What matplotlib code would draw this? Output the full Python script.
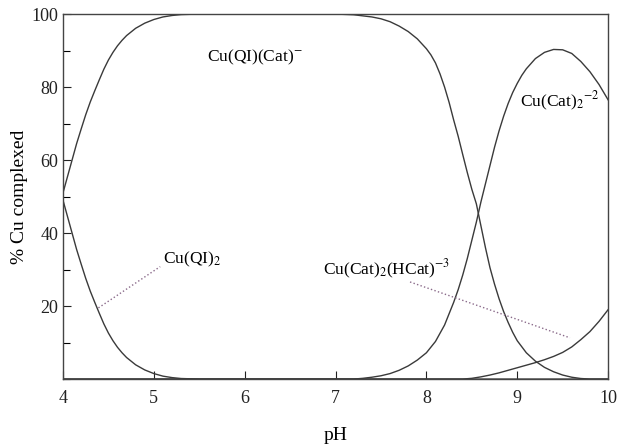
import matplotlib

matplotlib.use("Agg")
import matplotlib.pyplot as plt
from matplotlib.ticker import MultipleLocator, FixedLocator

plt.rcParams["font.family"] = ["Liberation Serif", "DejaVu Serif"]
plt.rcParams["mathtext.fontset"] = "stix"

# values (pH, % Cu complexed)
ph_qi2 = [4.0, 4.05, 4.1, 4.15, 4.2, 4.25, 4.3, 4.35, 4.4, 4.45, 4.5,
          4.55, 4.6, 4.65, 4.7, 4.8, 4.9, 5.0, 5.1, 5.2, 5.3, 5.5, 10.0]
pct_qi2 = [49, 44.5, 40, 35.5, 31.5, 27.6, 24.1, 21, 18, 15.1, 12.6,
           10.5, 8.7, 7.2, 5.9, 3.9, 2.5, 1.5, 0.8, 0.4, 0.15, 0, 0]

ph_qicat = [4.0, 4.05, 4.1, 4.15, 4.2, 4.25, 4.3, 4.35, 4.4, 4.45, 4.5,
            4.55, 4.6, 4.65, 4.7, 4.8, 4.9, 5.0, 5.1, 5.2, 5.3, 5.5,
            7.0, 7.2, 7.4, 7.5, 7.6, 7.7, 7.8, 7.9, 8.0, 8.05, 8.1, 8.15,
            8.2, 8.25, 8.3, 8.35, 8.4, 8.45, 8.5, 8.55, 8.6, 8.65, 8.7,
            8.75, 8.8, 8.85, 8.9, 8.95, 9.0, 9.1, 9.2, 9.3, 9.4, 9.5,
            9.6, 9.7, 9.8, 10.0]
pct_qicat = [51, 55.5, 60, 64.5, 68.5, 72.4, 75.9, 79, 82, 84.9, 87.4,
             89.5, 91.3, 92.8, 94.1, 96.1, 97.5, 98.5, 99.2, 99.6, 99.85,
             100, 100, 99.8, 99.2, 98.7, 97.9, 96.7, 95.2, 93.2, 90.5,
             88.8, 86.6, 83.6, 80, 75.8, 71, 66.5, 61.5, 56.6, 52, 48,
             42, 36, 30.5, 26, 22, 18.5, 15.5, 12.8, 10.5, 7.2, 4.9, 3.2,
             2.0, 1.1, 0.5, 0.15, 0, 0]

ph_cat2 = [4.0, 7.2, 7.3, 7.4, 7.5, 7.6, 7.7, 7.8, 7.9, 8.0, 8.1, 8.2,
           8.3, 8.35, 8.4, 8.45, 8.5, 8.55, 8.6, 8.65, 8.7, 8.75, 8.8,
           8.85, 8.9, 8.95, 9.0, 9.05, 9.1, 9.2, 9.3, 9.4, 9.5, 9.6,
           9.7, 9.8, 9.9, 10.0]
pct_cat2 = [0, 0, 0.2, 0.5, 0.9, 1.5, 2.4, 3.6, 5.2, 7.2, 10.3, 14.8,
            21, 24.5, 28.5, 33, 38, 43, 48.5, 53.5, 58.5, 63.5, 68,
            72, 75.5, 78.5, 81, 83.2, 85, 87.8, 89.5, 90.3, 90.2, 89.2,
            87, 84.2, 80.7, 76.5]

ph_hcat = [4.0, 8.4, 8.5, 8.6, 8.7, 8.8, 8.9, 9.0, 9.1, 9.2, 9.3, 9.4,
           9.5, 9.6, 9.7, 9.8, 9.9, 10.0]
pct_hcat = [0, 0, 0.2, 0.6, 1.1, 1.7, 2.4, 3.1, 3.8, 4.5, 5.3, 6.2,
            7.3, 8.8, 10.8, 13.0, 15.8, 19]

x_ticks = [4, 5, 6, 7, 8, 9, 10]
y_ticks = [20, 40, 60, 80, 100]

fig = plt.figure(figsize=(6.28, 4.47), dpi=100)
ax = fig.add_axes([0.1003, 0.152, 0.868, 0.8166])

line_kw = dict(color="#3a3a3a", lw=1.0)
for xs, ys in [(ph_qi2, pct_qi2), (ph_qicat, pct_qicat),
               (ph_cat2, pct_cat2), (ph_hcat, pct_hcat)]:
    ax.plot(xs, ys, **line_kw)

# dotted leader lines
ax.plot([4.39, 5.07], [19.5, 30.8], ls=":", color="#8a6a8a", lw=1.0)
ax.plot([7.82, 9.58], [26.6, 11.3], ls=":", color="#8a6a8a", lw=1.0)

fs = 12.5
ax.text(5.59, 88.2, r"Cu(QI)(Cat)$^{-}$", fontsize=fs, va="center")
ax.text(9.03, 76, r"Cu(Cat)$_2$$^{-2}$", fontsize=fs, va="center")
ax.text(5.10, 32.7, r"Cu(QI)$_2$", fontsize=fs, va="center")
ax.text(6.86, 30, r"Cu(Cat)$_2$(HCat)$^{-3}$", fontsize=fs, va="center")

ax.set_xlim(4, 10)
ax.set_ylim(0, 100)
ax.xaxis.set_major_locator(FixedLocator(x_ticks))
ax.yaxis.set_major_locator(FixedLocator(y_ticks))
ax.yaxis.set_minor_locator(MultipleLocator(10))
ax.tick_params(direction="in", length=6, width=0.8, labelsize=13,
               colors="#222222")
ax.tick_params(which="minor", direction="in", length=5, width=0.8)
ax.tick_params(axis="x", pad=8)
for s in ax.spines.values():
    s.set_color("#444444")
    s.set_linewidth(1.0)

ax.set_xlabel("pH", fontsize=14, labelpad=14)
ax.set_ylabel("% Cu complexed", fontsize=14, labelpad=2)

fig.savefig("out.png", dpi=100)
